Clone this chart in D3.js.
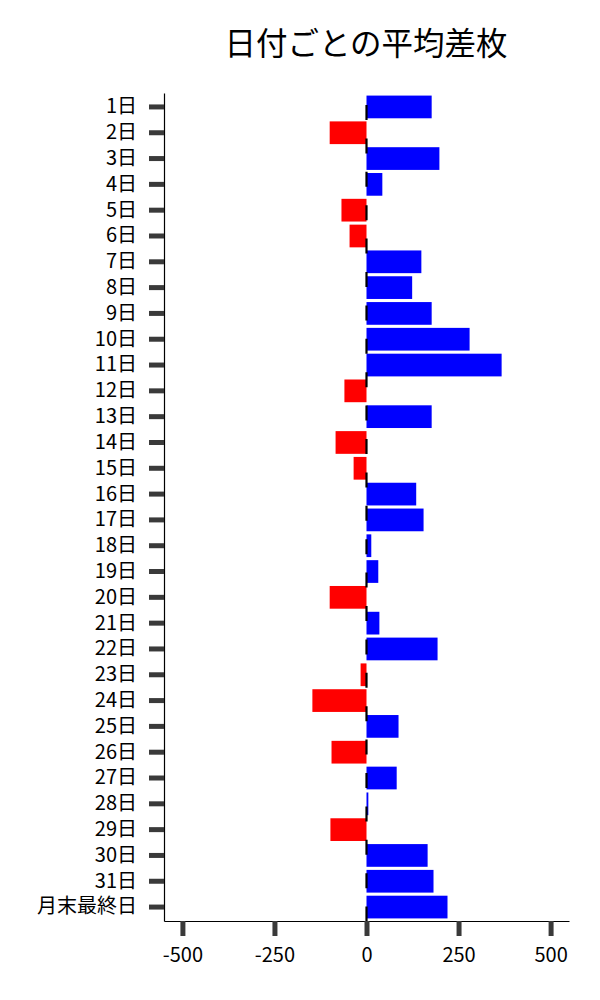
<!DOCTYPE html>
<html>
<head>
<meta charset="utf-8">
<script src="https://cdn.jsdelivr.net/npm/d3@7/dist/d3.min.js"></script>
<style>
  body { margin: 0; background: #fff; }
  svg { display: block; font-family: "Noto Sans CJK JP", "Noto Sans", sans-serif; }
</style>
</head>
<body>
<div id="chart"></div>
<script>
// Data
const days = ["1日","2日","3日","4日","5日","6日","7日","8日","9日","10日",
  "11日","12日","13日","14日","15日","16日","17日","18日","19日","20日",
  "21日","22日","23日","24日","25日","26日","27日","28日","29日","30日",
  "31日","月末最終日"];
const avgDiff = [177, -100, 198, 43, -68, -46, 149, 124, 177, 280,
  367, -60, 177, -84, -35, 135, 155, 13, 32, -100,
  35, 193, -16, -147, 87, -95, 82, 5, -98, 166,
  182, 220];
const xTicks = [-500, -250, 0, 250, 500];

const width = 600, height = 1000;
const margin = { top: 93, right: 31, bottom: 79, left: 164 };

const svg = d3.select("#chart")
    .append("svg")
    .attr("width", width)
    .attr("height", height);

// Scales
const x = d3.scaleLinear()
    .domain([-550, 550])
    .range([margin.left, width - margin.right]);

const y = d3.scaleBand()
    .domain(days)
    .range([margin.top, height - margin.bottom])
    .paddingInner(0.12)
    .paddingOuter(0.1);

// Title
svg.append("text")
    .attr("x", 366)
    .attr("y", 55)
    .attr("text-anchor", "middle")
    .attr("font-size", "31.5px")
    .attr("fill", "#000")
    .text("日付ごとの平均差枚");

// Bars
svg.selectAll(".bar")
    .data(days.map((d, i) => ({ day: d, value: avgDiff[i] })))
    .enter().append("rect")
    .attr("class", "bar")
    .attr("x", d => x(Math.min(0, d.value)))
    .attr("y", d => y(d.day))
    .attr("width", d => Math.abs(x(d.value) - x(0)))
    .attr("height", y.bandwidth())
    .attr("fill", d => d.value >= 0 ? "#0000ff" : "#ff0000");

// Zero line (dashed)
const period = 33.4;
svg.append("line")
    .attr("x1", x(0)).attr("x2", x(0))
    .attr("y1", margin.top).attr("y2", height - margin.bottom)
    .attr("stroke", "#000")
    .attr("stroke-width", 2.2)
    .attr("stroke-dasharray", `15,${period - 15}`)
    .attr("stroke-dashoffset", period - 12);

// Y axis
const yAxis = svg.append("g")
    .attr("transform", `translate(${margin.left},0)`)
    .call(d3.axisLeft(y).tickSize(15).tickSizeOuter(0).tickPadding(12));

// X axis (plain hyphen for negatives)
const xAxis = svg.append("g")
    .attr("transform", `translate(0,${height - margin.bottom})`)
    .call(d3.axisBottom(x).tickValues(xTicks).tickFormat(d => String(d))
        .tickSize(15).tickSizeOuter(0).tickPadding(12));

[yAxis, xAxis].forEach(g => {
    g.attr("font-family", null);
    g.select(".domain").attr("stroke", "#000").attr("stroke-width", 1.2);
    g.selectAll(".tick line").attr("stroke", "#3a3a3a").attr("stroke-width", 5);
    g.selectAll(".tick text").attr("font-size", "20px").attr("fill", "#000");
});
</script>
</body>
</html>
